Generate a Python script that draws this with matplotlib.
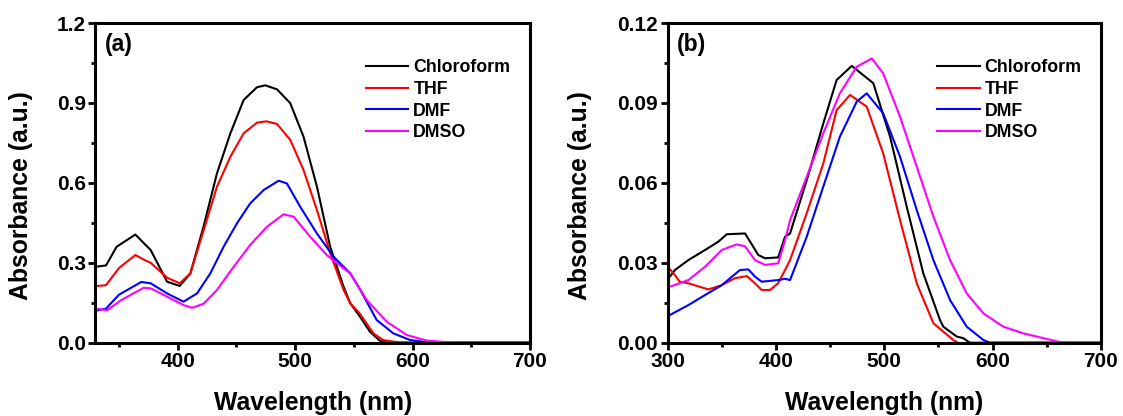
import matplotlib
matplotlib.use("Agg")
import matplotlib.pyplot as plt
from matplotlib.ticker import MultipleLocator

plt.rcParams['font.family'] = ['Liberation Sans', 'DejaVu Sans']
plt.rcParams['font.weight'] = 'bold'

solvents = ["Chloroform", "THF", "DMF", "DMSO"]
colors = ["black", "#ff0000", "#0000ff", "#ff00ff"]

# panel (a)
a_chl_x = [330, 339, 348, 364, 372, 377, 391, 401.7, 410.8, 422, 433.5, 444.9, 456.2, 467.6, 474.6, 484.6, 495.9, 507.2, 518.6, 529.9, 541.3, 547, 555.3, 563.8, 572, 580, 700]
a_chl_y = [0.285, 0.29, 0.36, 0.406, 0.37, 0.348, 0.229, 0.213, 0.26, 0.435, 0.636, 0.786, 0.911, 0.959, 0.966, 0.951, 0.899, 0.773, 0.586, 0.36, 0.21, 0.148, 0.0976, 0.041, 0.008, 0.0, 0.0]
a_thf_x = [330, 339, 350, 364, 372, 377, 391, 401.7, 410.8, 422, 433.5, 444.9, 456.2, 467.6, 475.5, 484.6, 495.9, 507.2, 518.6, 529.9, 541.3, 547, 555, 566.7, 575, 587, 600, 700]
a_thf_y = [0.212, 0.216, 0.28, 0.329, 0.31, 0.3, 0.244, 0.223, 0.26, 0.42, 0.586, 0.698, 0.786, 0.826, 0.831, 0.821, 0.761, 0.648, 0.498, 0.336, 0.198, 0.148, 0.11, 0.035, 0.01, 0.002, 0.0, 0.0]
a_dmf_x = [330, 339, 350, 369, 377, 391, 405, 416.5, 427.8, 439.1, 450.5, 461.8, 473.2, 486, 493, 504.4, 518.6, 532.7, 547, 555.3, 569.5, 583.7, 598, 612, 626, 700]
a_dmf_y = [0.12, 0.128, 0.18, 0.228, 0.223, 0.185, 0.154, 0.185, 0.26, 0.36, 0.448, 0.523, 0.573, 0.608, 0.598, 0.51, 0.41, 0.323, 0.26, 0.2, 0.085, 0.035, 0.01, 0.002, 0.0, 0.0]
a_dmso_x = [330, 340, 352, 371, 377, 391, 405, 412.3, 422, 433.5, 447.7, 461.8, 476, 490.2, 498.7, 512.8, 527, 541.3, 547, 561, 578, 595, 612, 635, 700]
a_dmso_y = [0.128, 0.122, 0.16, 0.206, 0.204, 0.173, 0.141, 0.131, 0.146, 0.198, 0.285, 0.367, 0.435, 0.482, 0.473, 0.398, 0.329, 0.279, 0.26, 0.16, 0.079, 0.029, 0.008, 0.0, 0.0]

# panel (b)
b_chl_x = [300, 302, 306.7, 319, 334.5, 346.7, 354.5, 371.4, 383.7, 389.9, 402, 408.4, 413, 428.4, 443.7, 456, 470, 489.9, 505.4, 520.8, 536.1, 551.5, 554.6, 567, 573, 579, 700]
b_chl_y = [0.026, 0.0248, 0.0273, 0.031, 0.0348, 0.0379, 0.0407, 0.041, 0.0329, 0.0317, 0.032, 0.0398, 0.041, 0.061, 0.0823, 0.0986, 0.1039, 0.0974, 0.0773, 0.051, 0.026, 0.0085, 0.006, 0.0023, 0.0017, 0.0, 0.0]
b_thf_x = [300, 306.6, 311, 319, 337.5, 349.9, 362, 373, 380.6, 386.7, 394.4, 402, 408.4, 413, 428.4, 443.7, 456, 468.4, 483.8, 499, 514.6, 530, 545.4, 563.8, 568]
b_thf_y = [0.0285, 0.0254, 0.0229, 0.0223, 0.02, 0.0216, 0.0242, 0.025, 0.0223, 0.0198, 0.0198, 0.0223, 0.0273, 0.031, 0.0486, 0.0673, 0.0873, 0.093, 0.0886, 0.0711, 0.046, 0.0223, 0.0073, 0.001, 0.0]
b_dmf_x = [300, 302, 319, 334.5, 349.9, 366.8, 374.5, 380.6, 386.7, 402, 408.4, 413, 428.4, 443.7, 459, 474.6, 483.8, 499, 514.6, 530, 545.4, 560.8, 576.2, 591.6, 597.7, 700]
b_dmf_y = [0.0097, 0.0104, 0.0141, 0.0179, 0.0216, 0.0273, 0.0275, 0.0248, 0.0229, 0.0235, 0.024, 0.0235, 0.0398, 0.0586, 0.0773, 0.0905, 0.0936, 0.0861, 0.0698, 0.0498, 0.031, 0.016, 0.006, 0.001, 0.0, 0.0]
b_dmso_x = [300, 302, 319, 334.5, 349.9, 363.7, 371.4, 380.6, 389.9, 402, 408.4, 413, 428.4, 443.7, 459, 474.6, 488.5, 499, 514.6, 530, 545.4, 560.8, 576.2, 591.6, 610, 628.5, 647, 665, 700]
b_dmso_y = [0.021, 0.021, 0.0235, 0.0285, 0.0348, 0.0369, 0.0362, 0.031, 0.0292, 0.0298, 0.0385, 0.046, 0.0623, 0.0786, 0.0936, 0.1036, 0.1067, 0.1011, 0.0848, 0.0661, 0.0473, 0.031, 0.0185, 0.011, 0.006, 0.0035, 0.0017, 0.0, 0.0]

panels = [
    dict(tag="(a)", xs=[a_chl_x, a_thf_x, a_dmf_x, a_dmso_x], ys=[a_chl_y, a_thf_y, a_dmf_y, a_dmso_y],
         xlim=(330, 700), ylim=(0, 1.2), ymaj=0.3, fmt="{:.1f}",
         pos=[0.0850, 0.1762, 0.3869, 0.7685], ylab_x=-0.171),
    dict(tag="(b)", xs=[b_chl_x, b_thf_x, b_dmf_x, b_dmso_x], ys=[b_chl_y, b_thf_y, b_dmf_y, b_dmso_y],
         xlim=(300, 700), ylim=(0, 0.12), ymaj=0.03, fmt="{:.2f}",
         pos=[0.5946, 0.1762, 0.3856, 0.7685], ylab_x=-0.2025),
]

fig = plt.figure(figsize=(11.23, 4.16), dpi=100)

for p in panels:
    ax = fig.add_axes(p["pos"])
    for name, c, x, y in zip(solvents, colors, p["xs"], p["ys"]):
        ax.plot(x, y, color=c, lw=1.5, label=name)
    ax.set_xlim(*p["xlim"])
    ax.set_ylim(*p["ylim"])
    ax.xaxis.set_major_locator(MultipleLocator(100))
    ax.xaxis.set_minor_locator(MultipleLocator(50))
    ax.yaxis.set_major_locator(MultipleLocator(p["ymaj"]))
    ax.yaxis.set_minor_locator(MultipleLocator(p["ymaj"] / 2))
    fmt = p["fmt"]
    ax.yaxis.set_major_formatter(plt.FuncFormatter(lambda v, _, f=fmt: f.format(v)))
    ax.tick_params(which="major", direction="out", length=5, width=2, labelsize=15, pad=2)
    ax.tick_params(which="minor", direction="out", length=3, width=2)
    for s in ax.spines.values():
        s.set_linewidth(2.2)
    ax.set_xlabel("Wavelength (nm)", fontsize=17.8, fontweight="bold")
    ax.xaxis.set_label_coords(0.5, -0.189)
    ax.xaxis.label.set_va("center")
    ax.set_ylabel("Absorbance (a.u.)", fontsize=17.8, fontweight="bold")
    ax.yaxis.set_label_coords(p["ylab_x"], 0.46)
    ax.yaxis.label.set_va("center")
    ax.text(0.022, 0.97, p["tag"], transform=ax.transAxes, fontsize=16.5, fontweight="bold", va="top")
    ax.legend(loc="upper left", bbox_to_anchor=(0.622, 0.886), frameon=False, fontsize=12.8,
              handlelength=2.4, handletextpad=0.28, labelspacing=0.26, borderpad=0, borderaxespad=0)

fig.savefig("out.png", dpi=100)
